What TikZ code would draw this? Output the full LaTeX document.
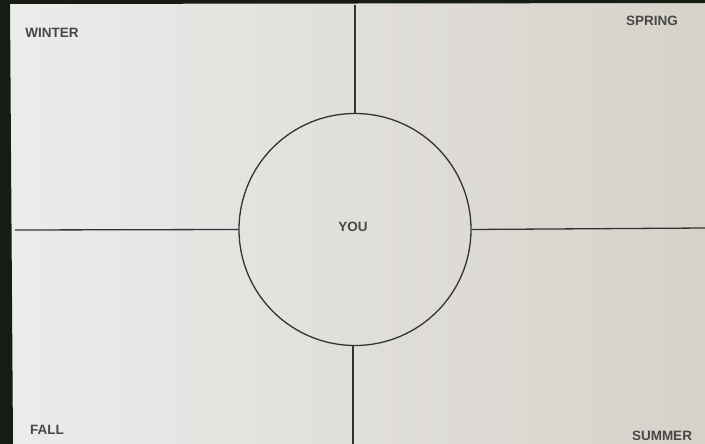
\documentclass[tikz,border=0pt]{standalone}
\usepackage{fontspec}
\setmainfont{Liberation Sans}
\begin{document}
\begin{tikzpicture}[x=1pt,y=-1pt,
  lbl/.style={font=\bfseries\fontsize{13.5}{16}\selectfont, text=black!72, inner sep=0pt},
  ink/.style={draw=black!80, line width=1.3pt}]
\definecolor{paperL}{RGB}{236,236,236}
\definecolor{paperR}{RGB}{214,210,202}
\definecolor{edge}{RGB}{22,28,20}
\useasboundingbox (0,0) rectangle (705,444);
\shade[left color=paperL, right color=paperR] (0,0) rectangle (705,444);
\fill[edge] (0,0) -- (705,0) -- (705,3) -- (10,4) -- (13,444) -- (0,444) -- cycle;
% circle
\node[ink, circle, minimum size=232pt, inner sep=0pt] (you) at (355,229.5) {};
\node[lbl] (youtxt) at (353,227) {YOU};
% free ends
\coordinate (top) at (355,5);
\coordinate (bot) at (353,444);
\coordinate (lft) at (15,230);
\coordinate (rgt) at (705,228);
\draw[ink] (you.north) -- (top);
\draw[ink] (you.south) ++(-2,0) coordinate (ys) -- (bot);
\draw[ink] (you.west) -- (lft);
\draw[ink] (you.east) -- (rgt);
% labels
\node[lbl] (winter) at (52,33) {WINTER};
\node[lbl] (spring) at (652,21) {SPRING};
\node[lbl] (fall) at (47,430) {FALL};
\node[lbl] (summer) at (662,436) {SUMMER};
\end{tikzpicture}
\end{document}
